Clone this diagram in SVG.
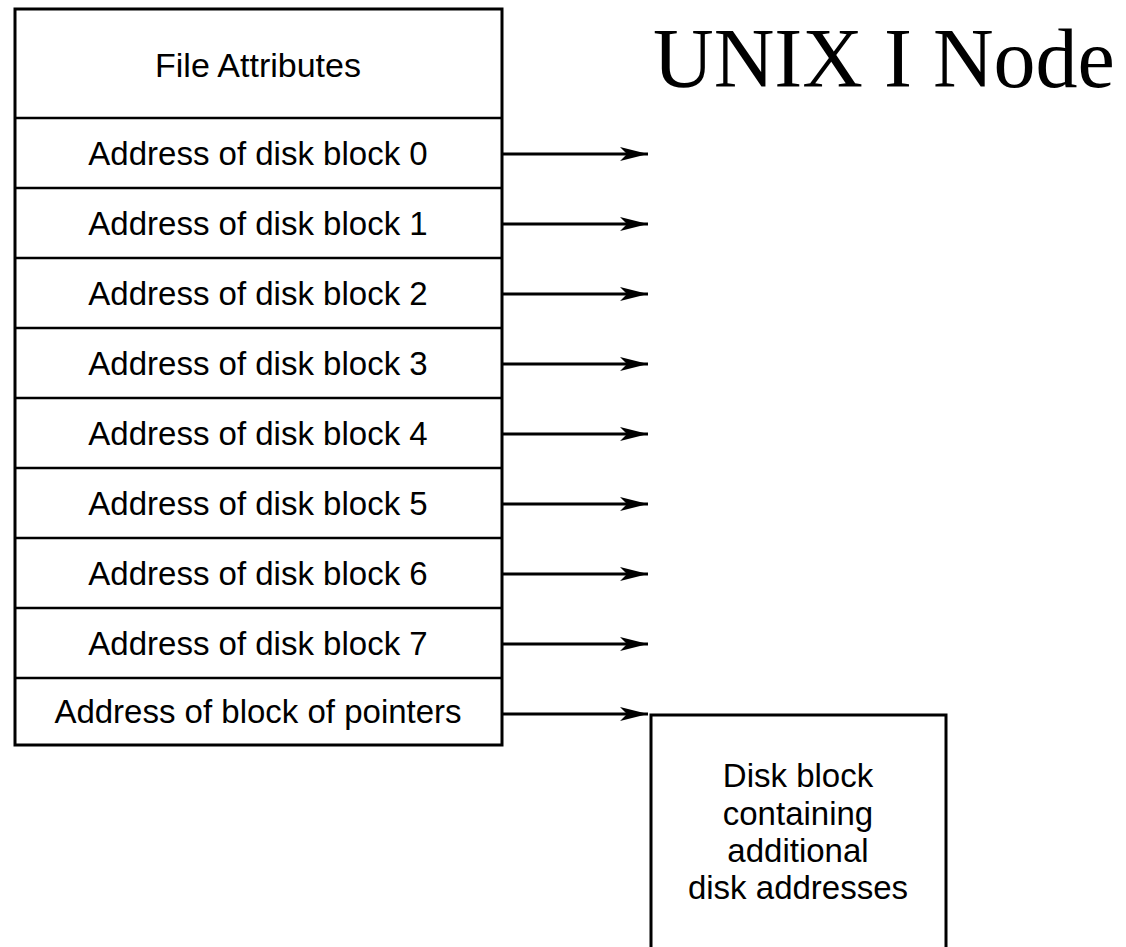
<svg xmlns="http://www.w3.org/2000/svg" width="1126" height="947" viewBox="0 0 1126 947">
<style>
.box{fill:#fff;stroke:#000;stroke-width:3}
.sep{stroke:#000;stroke-width:2.5}
.lbl{font-family:"Liberation Sans",Arial,sans-serif;font-size:33px;text-anchor:middle;fill:#000}
.conn{stroke:#000;stroke-width:3;fill:none;marker-end:url(#ah)}
</style>
<defs>
<marker id="ah" markerUnits="userSpaceOnUse" markerWidth="32" markerHeight="18" refX="28" refY="9" orient="auto">
<path d="M0,2 L28,9 L0,16 L7,9 Z" fill="#000"/>
</marker>
</defs>
<rect x="0" y="0" width="1126" height="947" fill="#fff"/>
<text x="653" y="87" style="font-family:'Liberation Serif','Times New Roman',serif;font-size:84px;fill:#000">UNIX I Node</text>
<g id="inode">
<rect class="box" x="15" y="9" width="487" height="736"/>
<line class="sep" x1="15" y1="118" x2="502" y2="118"/>
<line class="sep" x1="15" y1="188" x2="502" y2="188"/>
<line class="sep" x1="15" y1="258" x2="502" y2="258"/>
<line class="sep" x1="15" y1="328" x2="502" y2="328"/>
<line class="sep" x1="15" y1="398" x2="502" y2="398"/>
<line class="sep" x1="15" y1="468" x2="502" y2="468"/>
<line class="sep" x1="15" y1="538" x2="502" y2="538"/>
<line class="sep" x1="15" y1="608" x2="502" y2="608"/>
<line class="sep" x1="15" y1="678" x2="502" y2="678"/>
</g>
<g id="attr"><text class="lbl" x="258" y="77" style="font-size:34px">File Attributes</text></g>
<g id="b0"><text class="lbl" x="258" y="165">Address of disk block 0</text></g>
<g id="b1"><text class="lbl" x="258" y="235">Address of disk block 1</text></g>
<g id="b2"><text class="lbl" x="258" y="305">Address of disk block 2</text></g>
<g id="b3"><text class="lbl" x="258" y="375">Address of disk block 3</text></g>
<g id="b4"><text class="lbl" x="258" y="445">Address of disk block 4</text></g>
<g id="b5"><text class="lbl" x="258" y="515">Address of disk block 5</text></g>
<g id="b6"><text class="lbl" x="258" y="585">Address of disk block 6</text></g>
<g id="b7"><text class="lbl" x="258" y="655">Address of disk block 7</text></g>
<g id="bp"><text class="lbl" x="258" y="723">Address of block of pointers</text></g>
<g id="diskblock">
<rect class="box" x="651" y="715" width="295" height="240"/>
<text class="lbl" x="798" y="787">Disk block</text>
<text class="lbl" x="798" y="825">containing</text>
<text class="lbl" x="798" y="862">additional</text>
<text class="lbl" x="798" y="899">disk addresses</text>
</g>
<g id="connectors">
<line class="conn" x1="502" y1="154" x2="648" y2="154"/>
<line class="conn" x1="502" y1="224" x2="648" y2="224"/>
<line class="conn" x1="502" y1="294" x2="648" y2="294"/>
<line class="conn" x1="502" y1="364" x2="648" y2="364"/>
<line class="conn" x1="502" y1="434" x2="648" y2="434"/>
<line class="conn" x1="502" y1="504" x2="648" y2="504"/>
<line class="conn" x1="502" y1="574" x2="648" y2="574"/>
<line class="conn" x1="502" y1="644" x2="648" y2="644"/>
<line class="conn" x1="502" y1="714" x2="648" y2="714"/>
</g>
</svg>
